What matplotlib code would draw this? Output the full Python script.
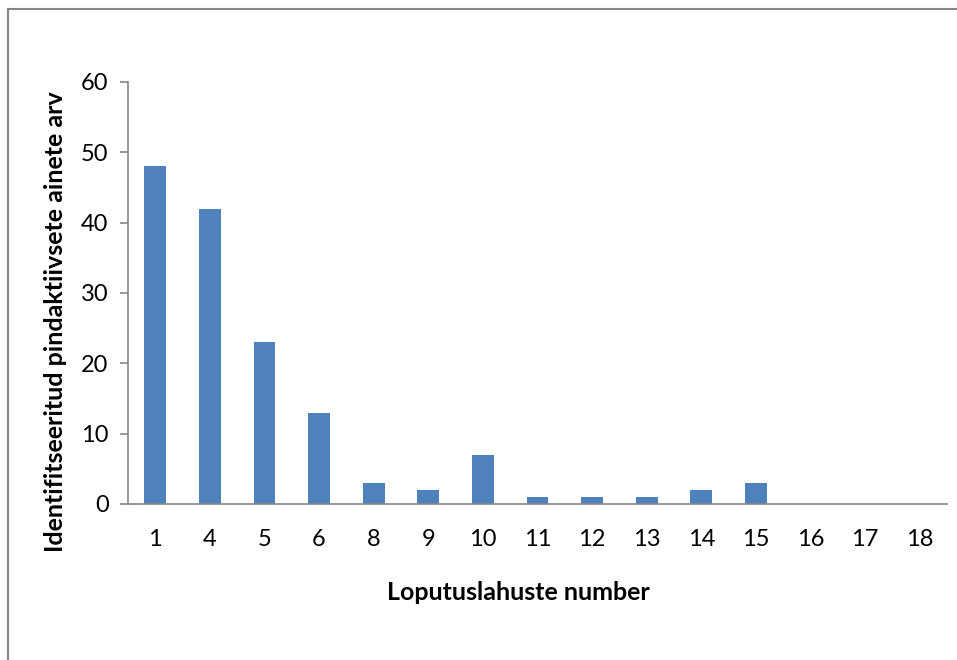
import matplotlib
matplotlib.use("Agg")
import matplotlib.pyplot as plt
from matplotlib.lines import Line2D

# rinse solution numbers and identified surfactant counts
categories = ["1", "4", "5", "6", "8", "9", "10", "11", "12", "13", "14", "15", "16", "17", "18"]
counts = [48, 42, 23, 13, 3, 2, 7, 1, 1, 1, 2, 3, 0, 0, 0]
y_ticks = [0, 10, 20, 30, 40, 50, 60]

plt.rcParams['font.family'] = ['Lato', 'DejaVu Sans']

fig = plt.figure(figsize=(9.57, 6.6), dpi=100)
ax = fig.add_axes([0.1338, 0.2364, 0.8557, 0.6394])

x = range(len(categories))
ax.bar(x, counts, width=0.4, color="#4F81BD", zorder=2)

ax.set_xlim(-0.5, len(categories) - 0.5)
ax.set_ylim(0, 60)
ax.set_yticks(y_ticks)
ax.set_xticks(list(x))
ax.set_xticklabels(categories)

grey = "#868686"
for side in ("top", "right"):
    ax.spines[side].set_visible(False)
for side in ("left", "bottom"):
    ax.spines[side].set_color(grey)
    ax.spines[side].set_linewidth(1.2)

ax.tick_params(axis="y", direction="out", length=6, width=1.2, color=grey,
               labelsize=17, pad=8)
ax.tick_params(axis="x", length=0, labelsize=17, pad=18)

ax.set_xlabel("Loputuslahuste number", fontsize=18, fontweight="bold")
ax.set_ylabel("Identifitseeritud pindaktiivsete ainete arv", fontsize=18,
              fontweight="bold")
ax.xaxis.set_label_coords(0.4768, -0.1825)
ax.yaxis.set_label_coords(-0.0745, 0.4325)

# outer chart frame (only top and left edges are in view)
fig.add_artist(Line2D([8 / 957, 8 / 957], [0, 1 - 9 / 660],
                      transform=fig.transFigure, color=grey, lw=1.5))
fig.add_artist(Line2D([8 / 957, 1], [1 - 9 / 660, 1 - 9 / 660],
                      transform=fig.transFigure, color=grey, lw=1.5))

fig.savefig("out.png", dpi=100)
